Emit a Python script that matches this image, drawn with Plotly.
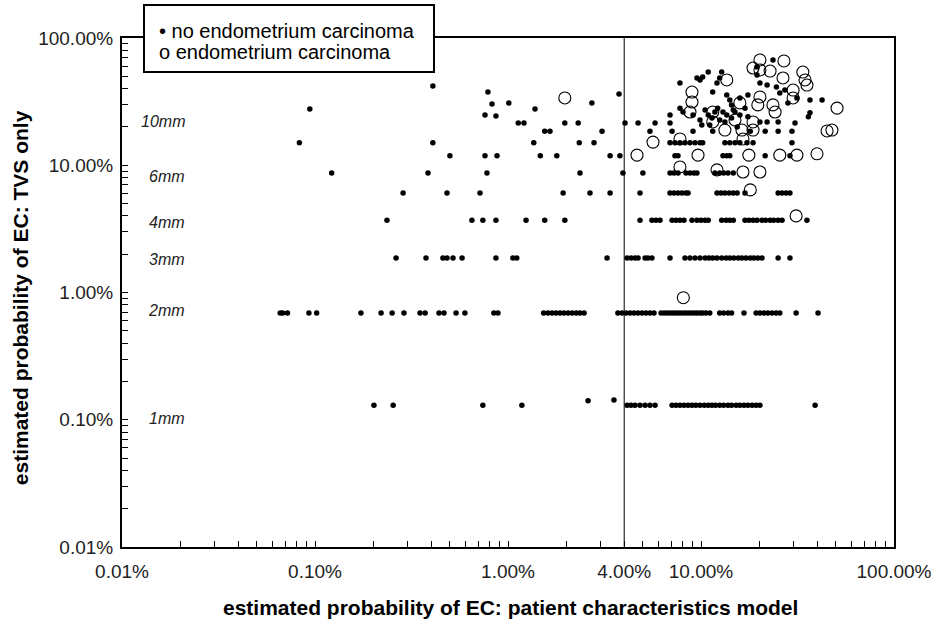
import math
import plotly.graph_objects as go

# Estimated probability of endometrial carcinoma (EC), in percent.
# x: patient characteristics model, y: transvaginal sonography (TVS) only.

# --- women without endometrium carcinoma, grouped by TVS level (y, %) ---
row_1mm_y = 0.13
row_1mm_x = [0.202, 0.254, 0.741, 1.18, 4.14, 4.34, 4.55, 4.83, 5.13, 5.44, 5.78,
             7.08, 7.42, 7.78, 8.16, 8.57, 8.98, 9.4, 9.88, 10.4, 10.9, 11.4, 11.9,
             12.5, 13.1, 13.8, 14.4, 15.2, 15.9, 16.7, 17.5, 18.4, 19.3, 20.2, 39.0]

row_2mm_y = 0.69
row_2mm_x = [0.066, 0.068, 0.072, 0.093, 0.102, 0.173, 0.220, 0.251, 0.289, 0.350,
             0.372, 0.439, 0.466, 0.538, 0.598, 0.845, 0.887, 1.53, 1.61, 1.69, 1.77,
             1.86, 1.95, 2.05, 2.15, 2.26, 2.36, 2.48, 3.71, 3.90, 4.09, 4.29, 4.50,
             4.72, 4.95, 5.19, 5.44, 5.71, 6.21, 6.44, 6.68, 6.91, 7.16, 7.42, 7.69,
             7.96, 8.26, 8.57, 8.88, 9.20, 9.53, 9.88, 10.2, 10.6, 11.1, 12.5, 13.1,
             13.8, 14.4, 16.7, 19.3, 20.2, 21.2, 22.2, 23.3, 24.5, 25.6, 31.1, 40.4]

row_3mm_y = 1.87
row_3mm_x = [0.263, 0.376, 0.460, 0.483, 0.519, 0.578, 0.866, 1.06, 1.11, 3.26, 4.14,
             4.34, 4.55, 4.72, 5.13, 5.31, 5.57, 6.91, 8.26, 8.77, 9.31, 9.88, 10.5,
             11.0, 11.5, 12.1, 12.8, 13.5, 14.1, 14.8, 15.6, 16.3, 17.1, 18.0, 18.8,
             19.7, 20.7, 25.1, 28.9]

row_4mm_y = 3.7
row_4mm_x = [0.236, 0.650, 0.741, 0.866, 1.24, 1.55, 1.97, 4.83, 5.57, 5.84, 6.13,
             7.08, 7.42, 7.78, 8.16, 8.98, 9.53, 10.0, 10.5, 10.9, 12.8, 13.5, 14.1,
             14.7, 16.9, 17.7, 18.6, 19.5, 20.7, 21.6, 22.8, 23.8, 25.1, 26.3, 35.4]

row_5mm_y = 6.05
row_5mm_x = [0.286, 0.483, 0.716, 1.93, 2.66, 3.38, 4.83, 6.91, 7.24, 7.60, 7.97,
             8.36, 8.57, 12.1, 12.7, 13.3, 14.0, 14.7, 15.4, 16.9, 25.1, 26.3, 27.6,
             28.9]

row_6mm_y = 8.7
row_6mm_x = [0.122, 0.385, 0.778, 2.36, 3.94, 5.00, 6.91, 7.24, 7.60, 8.36, 8.77,
             9.20, 9.53, 11.8, 12.5, 13.1, 13.8, 14.7]

row_8mm_y = 11.9
row_8mm_x = [0.500, 0.760, 0.877, 1.47, 1.79, 3.38, 3.80, 7.33, 7.60, 13.0, 13.6,
             14.1, 21.5, 28.9]

row_9mm_y = 15.0
row_9mm_x = [0.083, 0.408, 1.36, 2.34, 2.79, 6.91, 7.33, 7.78, 8.26, 8.77, 9.31,
             9.88, 10.2, 13.3, 14.1, 15.0, 15.9, 17.3, 18.6, 29.6]

row_10mm_y = 18.5
row_10mm_x = [1.55, 1.65, 3.07, 5.44, 7.08, 9.09, 11.5, 18.0, 21.5, 25.1, 29.6]

# remaining women without EC (thicker endometrium, other TVS findings)
other_no_ec_x = [0.408, 0.787, 0.094, 0.826, 1.01, 1.38, 0.760, 0.866, 1.13, 1.21,
                 2.72, 3.76, 1.97, 2.31, 4.04, 4.72, 5.78, 2.60, 3.54,
                 7.78, 9.88, 10.2, 12.8, 12.1, 11.5, 13.6, 14.1, 14.4, 14.7, 15.9,
                 17.5, 19.5, 19.5, 20.2, 22.0, 23.6, 24.6, 25.6, 27.2, 28.2, 31.4,
                 36.7, 42.4, 7.78, 8.07, 6.91, 9.09, 12.2, 13.0, 13.6, 14.4, 15.4,
                 17.5, 20.2, 22.0, 25.1, 30.7, 36.7, 6.91, 10.5, 10.9, 11.4, 11.8,
                 12.5, 13.3, 15.0, 15.9, 16.9, 9.88, 10.1, 11.1, 9.53, 10.9, 12.5,
                 36.0]
other_no_ec_y = [42.0, 37.6, 27.7, 30.3, 30.9, 27.7, 24.8, 24.4, 21.5, 21.5,
                 30.9, 36.3, 21.5, 21.5, 21.5, 21.5, 21.5, 0.141, 0.143,
                 44.3, 46.8, 49.4, 54.0, 44.3, 37.6, 35.6, 32.6, 29.8, 27.2, 33.8,
                 35.6, 59.2, 51.2, 44.3, 42.7, 67.2, 41.2, 36.9, 39.0, 30.9, 33.8,
                 32.6, 32.6, 28.1, 26.2, 24.8, 24.8, 28.1, 26.2, 24.8, 23.5, 20.0,
                 24.0, 21.9, 21.9, 21.9, 21.5, 25.8, 21.5, 27.2, 24.8, 23.5, 26.2,
                 22.7, 21.9, 26.2, 24.8, 28.1, 22.7, 20.7, 20.7, 48.5, 54.0, 48.5,
                 24.0]

# --- women with endometrium carcinoma ---
ec_x = [1.97, 4.66, 9.65, 17.7, 25.6, 31.4, 39.9, 5.64, 7.78, 16.5, 13.3, 16.3,
        18.6, 45.0, 47.7, 7.78, 12.1, 16.5, 20.2, 18.0, 31.1, 8.1,
        20.2, 26.9, 18.6, 20.2, 22.8, 26.6, 33.7, 34.6, 35.4, 13.6, 8.98, 8.98,
        8.77, 11.5, 11.5, 15.0, 15.9, 20.2, 19.7, 23.6, 24.2, 30.0, 30.0, 50.7,
        18.6]
ec_y = [33.8, 12.0, 12.0, 12.0, 12.0, 12.0, 12.3, 15.2, 16.1, 16.1, 18.9, 18.9,
        18.9, 18.6, 18.9, 9.7, 9.2, 8.85, 8.85, 6.4, 4.0, 0.91,
        67.2, 66.0, 58.1, 56.1, 55.0, 48.5, 54.0, 46.8, 42.7, 46.8, 37.6, 31.4,
        26.2, 26.2, 21.9, 22.7, 30.9, 34.4, 29.8, 29.8, 26.2, 39.0, 33.8, 28.1,
        21.9]

# --- axis labelling ---
x_labels = {0.01: "0.01%", 0.1: "0.10%", 1: "1.00%", 4: "4.00%", 10: "10.00%", 100: "100.00%"}
y_labels = {0.01: "0.01%", 0.1: "0.10%", 1: "1.00%", 10: "10.00%", 100: "100.00%"}
cutoff_pct = 4
thickness_labels = ["10mm", "6mm", "4mm", "3mm", "2mm", "1mm"]
thickness_label_pct = [21.9, 8.23, 3.58, 1.83, 0.716, 0.103]
legend_lines = ["• no endometrium carcinoma", "o endometrium carcinoma"]

FONT = "Liberation Sans, Arial, sans-serif"

rows = [
    (row_1mm_x, row_1mm_y), (row_2mm_x, row_2mm_y), (row_3mm_x, row_3mm_y),
    (row_4mm_x, row_4mm_y), (row_5mm_x, row_5mm_y), (row_6mm_x, row_6mm_y),
    (row_8mm_x, row_8mm_y), (row_9mm_x, row_9mm_y), (row_10mm_x, row_10mm_y),
]
no_ec_x, no_ec_y = [], []
for xs, level in rows:
    no_ec_x += xs
    no_ec_y += [level] * len(xs)
no_ec_x += other_no_ec_x
no_ec_y += other_no_ec_y

fig = go.Figure()
fig.add_trace(go.Scatter(
    x=no_ec_x, y=no_ec_y, mode="markers", name="no endometrium carcinoma",
    marker=dict(symbol="circle", size=5.5, color="black"),
))
fig.add_trace(go.Scatter(
    x=ec_x, y=ec_y, mode="markers", name="endometrium carcinoma",
    marker=dict(symbol="circle-open", size=12, color="black", line=dict(width=1.1)),
))


def log_ticks(labels):
    """Ticks at every 1..9 multiple of each decade; text only where labelled."""
    vals, texts = [], []
    for e in range(-2, 2):
        for m in range(1, 10):
            v = round(m * 10 ** e, 6)
            vals.append(v)
            texts.append(labels.get(v, ""))
    vals.append(100)
    texts.append(labels[100])
    return vals, texts


xv, xt = log_ticks(x_labels)
yv, yt = log_ticks(y_labels)

axis_common = dict(
    type="log", range=[-2, 2], showgrid=False, zeroline=False, automargin=False,
    showline=True, linecolor="black", linewidth=2, mirror=True,
    ticks="inside", ticklen=6, tickwidth=1, tickcolor="black",
    tickfont=dict(family=FONT, size=19, color="#222"),
)
fig.update_xaxes(**axis_common, tickvals=xv, ticktext=xt, ticklabelstandoff=6)
fig.update_yaxes(**axis_common, tickvals=yv, ticktext=yt, ticklabelstandoff=3)

# 4% cut-off
fig.add_shape(type="line", xref="x", yref="paper", x0=cutoff_pct, x1=cutoff_pct,
              y0=0, y1=1, line=dict(color="black", width=1))

# endometrial thickness labels
for txt, yp in zip(thickness_labels, thickness_label_pct):
    fig.add_annotation(text=f"<i>{txt}</i>", xref="paper", yref="y", x=0.084,
                       y=math.log10(yp), xanchor="right", yanchor="middle",
                       showarrow=False, font=dict(family=FONT, size=16, color="#222"))

# axis titles
fig.add_annotation(text="<b>estimated probability of EC: patient characteristics model</b>",
                   xref="paper", yref="paper", x=0.5026, y=-0.118, showarrow=False,
                   xanchor="center", yanchor="middle",
                   font=dict(family=FONT, size=21, color="black"))
fig.add_annotation(text="<b>estimated probability of EC: TVS only</b>",
                   xref="paper", yref="paper", x=-0.132, y=0.489, showarrow=False,
                   textangle=-90, xanchor="center", yanchor="middle",
                   font=dict(family=FONT, size=21, color="black"))

# legend: framed box with two text lines
fig.add_annotation(text=" ", xref="paper", yref="paper", x=0.0272, y=1.067,
                   xanchor="left", yanchor="top", showarrow=False,
                   width=288, height=65, borderpad=0,
                   bordercolor="black", borderwidth=2, bgcolor="white",
                   font=dict(family=FONT, size=10))
for line, yp in zip(legend_lines, [1.0138, 0.9725]):
    fig.add_annotation(text=line, xref="paper", yref="paper", x=0.0453, y=yp,
                       xanchor="left", yanchor="middle", showarrow=False,
                       font=dict(family=FONT, size=20, color="black"))

fig.update_layout(
    width=938, height=621, autosize=False,
    margin=dict(l=122, r=44, t=38, b=74, autoexpand=False),
    paper_bgcolor="white", plot_bgcolor="white",
    showlegend=False,
)
fig.write_html("out.html")
